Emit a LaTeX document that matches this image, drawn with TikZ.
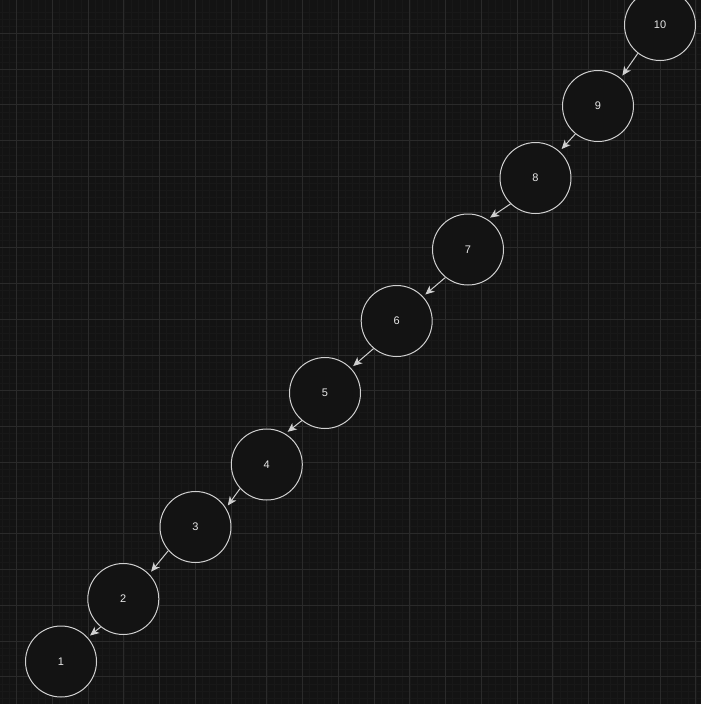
\documentclass[tikz,border=0pt]{standalone}
\usepackage{fontspec}
\setmainfont{Liberation Sans}
\usepackage{tikz}
\usetikzlibrary{arrows.meta}
\definecolor{canvas}{HTML}{131313}
\definecolor{gridminor}{HTML}{181818}
\definecolor{gridmajor}{HTML}{2A2A2A}
\definecolor{ring}{HTML}{D0D0D0}
\definecolor{label}{HTML}{E8E8E8}
\tikzset{
  minorline/.style={
    draw = gridminor,
    line width = 0.7pt
  },
  majorline/.style={
    draw = gridmajor,
    line width = 1pt
  },
  treenode/.style={
    shape = circle,
    minimum size = 71pt,
    inner sep = 0pt,
    draw = ring,
    fill = canvas,
    line width = 1pt,
    text = label,
    font = \fontsize{11}{13}\selectfont
  },
  link/.style={
    draw = ring,
    line width = 1pt,
    -{Stealth[length=9pt,width=8pt,inset=2.5pt]},
    shorten >= 3pt
  }
}
\begin{document}
\begin{tikzpicture}[x=1pt,y=-1pt]
    \def\gx{16.6}
    \def\gy{33.3}
    \def\gM{35.75}
    \def\gm{7.15}
    \useasboundingbox (0,0) rectangle (701,704);
    \clip (0,0) rectangle (701,704);
    \fill[canvas] (0,0) rectangle (701,704);
    % grid
    \foreach \k in {-3,...,98} {
      \draw[minorline] ({\gx+\k*\gm},0) -- ({\gx+\k*\gm},704);
      \draw[minorline] (0,{\gy+\k*\gm}) -- (701,{\gy+\k*\gm});
    }
    \foreach \k in {-1,...,19} {
      \draw[majorline] ({\gx+\k*\gM},0) -- ({\gx+\k*\gM},704);
      \draw[majorline] (0,{\gy+\k*\gM}) -- (701,{\gy+\k*\gM});
    }
    % nodes
    \node[treenode] (n10) at (660,25) {10};
    \node[treenode] (n9) at (598,106) {9};
    \node[treenode] (n8) at (535.5,178) {8};
    \node[treenode] (n7) at (468,249.5) {7};
    \node[treenode] (n6) at (396.7,321) {6};
    \node[treenode] (n5) at (325,393) {5};
    \node[treenode] (n4) at (266.8,464.5) {4};
    \node[treenode] (n3) at (195.5,527) {3};
    \node[treenode] (n2) at (123.3,599) {2};
    \node[treenode] (n1) at (61,661.5) {1};
    % edges
    \foreach \a/\b/\out/\in in {10/9/232/51, 9/8/231/48, 8/7/226/57, 7/6/231/43, 6/5/230/44, 5/4/230/59, 4/3/222/32, 3/2/221/44, 2/1/231/42} {
      \draw[link] (n\a.\out) -- (n\b.\in);
    }
\end{tikzpicture}
\end{document}
